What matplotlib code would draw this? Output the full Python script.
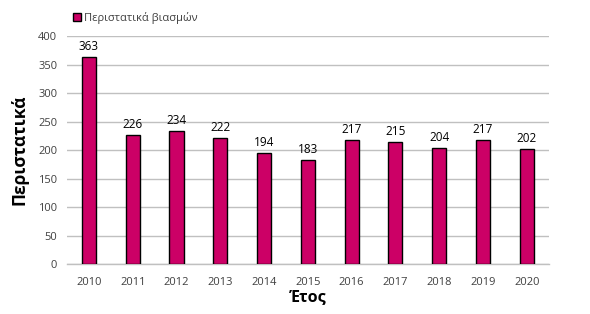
import matplotlib
matplotlib.use("Agg")
import matplotlib.pyplot as plt

years = ["2010", "2011", "2012", "2013", "2014", "2015", "2016", "2017", "2018", "2019", "2020"]
cases = [363, 226, 234, 222, 194, 183, 217, 215, 204, 217, 202]
series_name = "Περιστατικά βιασμών"
yticks = [0, 50, 100, 150, 200, 250, 300, 350, 400]

plt.rcParams['font.family'] = ['Open Sans', 'DejaVu Sans']

fig = plt.figure(figsize=(5.9, 3.14), dpi=100)
ax = fig.add_axes([0.1136, 0.1592, 0.8164, 0.7258])

x = list(range(len(years)))
bars = ax.bar(x, cases, width=0.32, color="#CC0066", edgecolor="black", linewidth=1.0,
              label=series_name, zorder=3)
for xi, v in zip(x, cases):
    ax.text(xi, v + 7, str(v), ha="center", va="bottom", fontsize=8.5, color="black")

ax.set_xlim(-0.5, len(years) - 0.5)
ax.set_ylim(0, 400)
ax.set_yticks(yticks)
ax.set_xticks(x)
ax.set_xticklabels(years)
ax.tick_params(axis="both", length=0, labelsize=8, labelcolor="#404040")
ax.tick_params(axis="x", pad=9)
ax.tick_params(axis="y", pad=7)
ax.yaxis.grid(True, color="#c0c0c0", linewidth=1.0, zorder=0)
for s in ["top", "right", "left"]:
    ax.spines[s].set_visible(False)
ax.spines["bottom"].set_color("#c0c0c0")
ax.spines["bottom"].set_linewidth(1.0)

ax.set_ylabel("Περιστατικά", fontsize=12.5, fontweight="bold", labelpad=7)
ax.set_xlabel("Έτος", fontsize=11.5, fontweight="bold", labelpad=1)

leg = ax.legend(loc="upper left", bbox_to_anchor=(0.012, 1.105), frameon=False, fontsize=8,
                handlelength=0.7, handleheight=0.7, handletextpad=0.3, borderaxespad=0,
                borderpad=0)
for t in leg.get_texts():
    t.set_color("#404040")

fig.savefig("out.png", dpi=100)
